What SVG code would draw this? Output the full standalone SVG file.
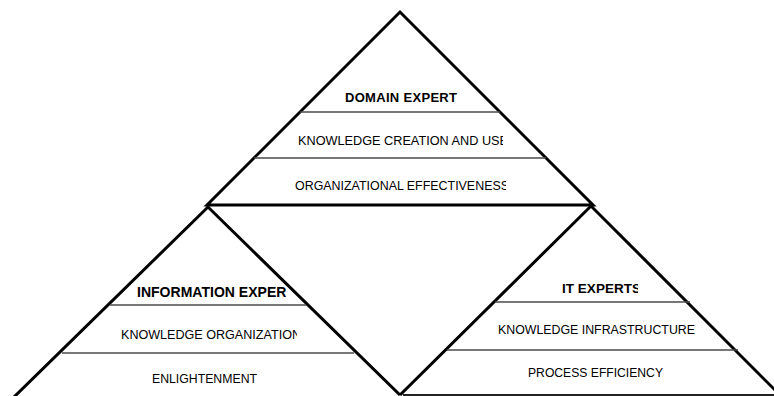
<svg xmlns="http://www.w3.org/2000/svg" width="774" height="396" viewBox="0 0 774 396">
<style>
.edge{fill:none;stroke:#000;stroke-width:3;stroke-linejoin:miter}
.div{stroke:#4a4a4a;stroke-width:1.3;fill:none}
.t{font-family:"Liberation Sans",Arial,sans-serif;fill:#000;font-size:12px}
.h{font-weight:bold;font-size:13px}
</style>
<defs>
<clipPath id="c1"><rect x="0" y="0" width="503" height="396"/></clipPath>
<clipPath id="c2"><rect x="0" y="0" width="506" height="396"/></clipPath>
<clipPath id="c3"><rect x="0" y="0" width="286" height="396"/></clipPath>
<clipPath id="c4"><rect x="0" y="0" width="297" height="396"/></clipPath>
<clipPath id="c5"><rect x="0" y="0" width="638" height="396"/></clipPath>
</defs>
<rect width="774" height="396" fill="#fff"/>
<g id="domain-expert">
<path class="edge" d="M207,205 L400,12 L593,205 Z"/>
<line class="div" x1="300" y1="112" x2="500" y2="112"/>
<line class="div" x1="254" y1="158" x2="546" y2="158"/>
<text class="t h" x="345" y="102" textLength="112" lengthAdjust="spacing">DOMAIN EXPERT</text>
<text class="t" x="298" y="145" textLength="210" lengthAdjust="spacingAndGlyphs" clip-path="url(#c1)">KNOWLEDGE CREATION AND USE</text>
<text class="t" x="295" y="190" textLength="214" lengthAdjust="spacingAndGlyphs" clip-path="url(#c2)">ORGANIZATIONAL EFFECTIVENESS</text>
</g>
<g id="information-expert">
<path class="edge" d="M13,398 L208,207 L400,395"/>
<line class="div" x1="110" y1="305" x2="306" y2="305"/>
<line class="div" x1="62" y1="353" x2="354" y2="353"/>
<text class="t h" x="137" y="297" style="font-size:14px" textLength="158" lengthAdjust="spacing" clip-path="url(#c3)">INFORMATION EXPERT</text>
<text class="t" x="121" y="339" textLength="180" lengthAdjust="spacingAndGlyphs" clip-path="url(#c4)">KNOWLEDGE ORGANIZATION</text>
<text class="t" x="152" y="383" textLength="105" lengthAdjust="spacingAndGlyphs">ENLIGHTENMENT</text>
</g>
<g id="it-experts">
<path class="edge" d="M400,395 L591,206 L781,396"/>
<line x1="403" y1="395" x2="774" y2="395" stroke="#222" stroke-width="2"/>
<line class="div" x1="495" y1="302" x2="690" y2="302"/>
<line class="div" x1="447" y1="350" x2="738" y2="350"/>
<text class="t h" x="562" y="293" style="font-size:13.5px" textLength="79" lengthAdjust="spacing" clip-path="url(#c5)">IT EXPERTS</text>
<text class="t" x="498" y="334" textLength="197" lengthAdjust="spacingAndGlyphs">KNOWLEDGE INFRASTRUCTURE</text>
<text class="t" x="528" y="377" textLength="135" lengthAdjust="spacingAndGlyphs">PROCESS EFFICIENCY</text>
</g>
<g id="connectors"/>
</svg>
